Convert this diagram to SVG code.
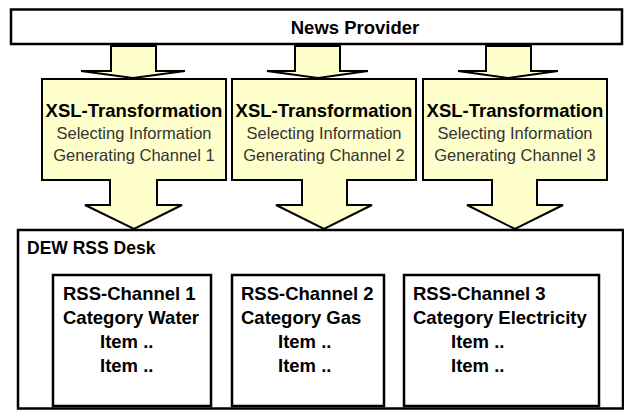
<svg xmlns="http://www.w3.org/2000/svg" width="624" height="410" viewBox="0 0 624 410">
<style>
  .box{fill:#ffffff;stroke:#000;stroke-width:2.5}
  .arrow{fill:#ffffcc;stroke:#000;stroke-width:2}
  .t{font-family:"Liberation Sans",Arial,sans-serif;fill:#000}
  .b{font-weight:bold}
  .title{font-size:18.5px;font-weight:bold;text-anchor:middle}
  .sub{font-size:16.5px;fill:#333;text-anchor:middle}
  .ch{font-size:18.5px;font-weight:bold}
</style>
<rect width="624" height="410" fill="#fff"/>
<g id="news-provider">
  <rect class="box" x="11" y="9.5" width="611" height="34.5"/>
  <text class="t b" x="355" y="34" font-size="18.5" text-anchor="middle">News Provider</text>
</g>
<g id="connectors">
  <path class="arrow" d="M111,46 H156 V71 H185 L133,78 L81,71 H111 Z"/>
  <path class="arrow" d="M295,46 H340 V71 H368 L318,78 L267,71 H295 Z"/>
  <path class="arrow" d="M486,46 H531 V71 H558 L508,78 L458,71 H486 Z"/>
</g>
<g id="xsl1">
  <path class="arrow" d="M42,79 H226 V180 H157 V205 H182 L134,229 L85,205 H110 V180 H42 Z"/>
  <text class="t title" x="134" y="117">XSL-Transformation</text>
  <text class="t sub" x="134" y="139">Selecting Information</text>
  <text class="t sub" x="134" y="161">Generating Channel 1</text>
</g>
<g id="xsl2">
  <path class="arrow" d="M232,79 H416 V180 H347 V205 H372 L324,229 L276,205 H302 V180 H232 Z"/>
  <text class="t title" x="324" y="117">XSL-Transformation</text>
  <text class="t sub" x="324" y="139">Selecting Information</text>
  <text class="t sub" x="324" y="161">Generating Channel 2</text>
</g>
<g id="xsl3">
  <path class="arrow" d="M423,79 H607 V180 H537 V205 H563 L515,229 L467,205 H492 V180 H423 Z"/>
  <text class="t title" x="515" y="117">XSL-Transformation</text>
  <text class="t sub" x="515" y="139">Selecting Information</text>
  <text class="t sub" x="515" y="161">Generating Channel 3</text>
</g>
<g id="dew-rss-desk">
  <rect class="box" x="18" y="230" width="605" height="178.5" stroke-width="2"/>
  <text class="t b" x="27" y="254" font-size="17.5">DEW RSS Desk</text>
</g>
<g id="channel1">
  <rect class="box" x="53" y="275" width="158" height="131"/>
  <text class="t ch" x="63" y="300">RSS-Channel 1</text>
  <text class="t ch" x="63" y="324">Category Water</text>
  <text class="t ch" x="100" y="348">Item ..</text>
  <text class="t ch" x="100" y="372">Item ..</text>
</g>
<g id="channel2">
  <rect class="box" x="232" y="275" width="152" height="131"/>
  <text class="t ch" x="241" y="300">RSS-Channel 2</text>
  <text class="t ch" x="241" y="324">Category Gas</text>
  <text class="t ch" x="278" y="348">Item ..</text>
  <text class="t ch" x="278" y="372">Item ..</text>
</g>
<g id="channel3">
  <rect class="box" x="404" y="275" width="195" height="131"/>
  <text class="t ch" x="413" y="300">RSS-Channel 3</text>
  <text class="t ch" x="413" y="324">Category Electricity</text>
  <text class="t ch" x="451" y="348">Item ..</text>
  <text class="t ch" x="451" y="372">Item ..</text>
</g>
</svg>
